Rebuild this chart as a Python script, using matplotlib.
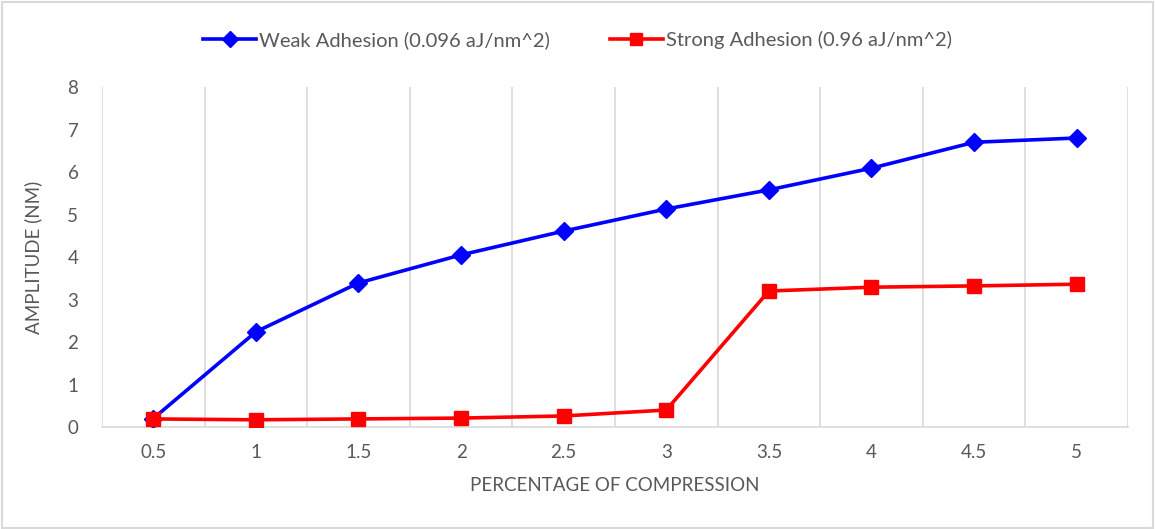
import matplotlib.pyplot as plt
from matplotlib.patches import Rectangle
import numpy as np

plt.rcParams['font.family'] = ['Lato', 'DejaVu Sans']

# Compression steps and measured amplitudes
compression = ['0.5', '1', '1.5', '2', '2.5', '3', '3.5', '4', '4.5', '5']
weak_amp = [0.20, 2.24, 3.39, 4.05, 4.61, 5.13, 5.58, 6.09, 6.70, 6.80]
strong_amp = [0.19, 0.17, 0.19, 0.21, 0.26, 0.40, 3.20, 3.29, 3.32, 3.36]

text_color = '#595959'
grid_color = '#D9D9D9'

fig = plt.figure(figsize=(11.55, 5.29), dpi=100)
ax = fig.add_axes([0.0883, 0.1928, 0.8883, 0.6427])

x = np.arange(len(compression))
ax.plot(x, weak_amp, color='#0000FF', lw=2.6, marker='D', ms=9,
        label='Weak Adhesion (0.096 aJ/nm^2)', zorder=3)
ax.plot(x, strong_amp, color='#FF0000', lw=2.6, marker='s', ms=10.5,
        label='Strong Adhesion (0.96 aJ/nm^2)', zorder=3)

ax.set_xlim(-0.5, len(compression) - 0.5)
ax.set_ylim(0, 8)
ax.set_yticks(range(0, 9))
ax.set_xticks(x)
ax.set_xticklabels(compression)

# vertical gridlines sit between categories
ax.set_xticks(np.arange(-0.5, len(compression)), minor=True)
ax.grid(True, which='minor', axis='x', color=grid_color, lw=1.2)
ax.tick_params(which='both', length=0)
ax.tick_params(axis='both', labelsize=13.5, colors=text_color)
ax.tick_params(axis='y', pad=17)
ax.tick_params(axis='x', pad=12)

for side in ['top', 'right', 'left']:
    ax.spines[side].set_visible(False)
ax.spines['bottom'].set_color(grid_color)
ax.spines['bottom'].set_linewidth(1.2)

ax.set_xlabel('PERCENTAGE OF COMPRESSION', fontsize=13.5, color=text_color, labelpad=12)
ax.set_ylabel('AMPLITUDE (NM)', fontsize=13.5, color=text_color, labelpad=18)

fig.legend(loc='upper center', bbox_to_anchor=(0.5, 0.975), ncol=2, frameon=False,
           fontsize=14.5, labelcolor=text_color, handlelength=2.6, columnspacing=3.0,
           handletextpad=0.15, markerscale=0.85)

# light outer border
fig.patches.append(Rectangle((0.002, 0.002), 0.996, 0.994, transform=fig.transFigure,
                             fill=False, edgecolor=grid_color, lw=1.5))

fig.savefig('out.png', dpi=100)
